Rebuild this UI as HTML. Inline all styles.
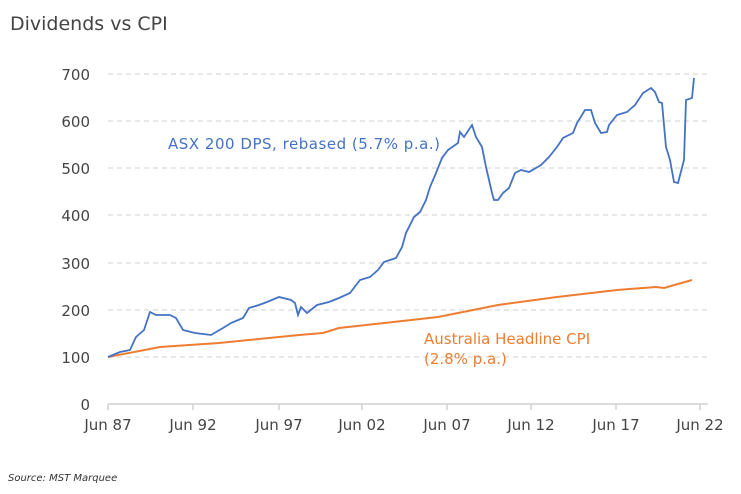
<!DOCTYPE html>
<html><head><style>
body{margin:0;background:#fff;}
svg{display:block;font-family:"DejaVu Sans","Liberation Sans",sans-serif;}
</style></head><body>
<svg width="741" height="494" viewBox="0 0 741 494">
<text x="10" y="30" font-size="19" fill="#444">Dividends vs CPI</text>
<g stroke="#d9d9d9" stroke-width="1.2" stroke-dasharray="5,4">
<line x1="108" y1="74" x2="708" y2="74"/>
<line x1="108" y1="121" x2="708" y2="121"/>
<line x1="108" y1="168" x2="708" y2="168"/>
<line x1="108" y1="215" x2="708" y2="215"/>
<line x1="108" y1="263" x2="708" y2="263"/>
<line x1="108" y1="310" x2="708" y2="310"/>
<line x1="108" y1="357" x2="708" y2="357"/>
</g>
<line x1="108" y1="404" x2="708" y2="404" stroke="#d0d0d0" stroke-width="1.5"/>
<g stroke="#d0d0d0" stroke-width="1.5">
<line x1="108" y1="404" x2="108" y2="410"/><line x1="193" y1="404" x2="193" y2="410"/>
<line x1="279" y1="404" x2="279" y2="410"/><line x1="362" y1="404" x2="362" y2="410"/>
<line x1="447" y1="404" x2="447" y2="410"/><line x1="531" y1="404" x2="531" y2="410"/>
<line x1="616" y1="404" x2="616" y2="410"/><line x1="700" y1="404" x2="700" y2="410"/>
</g>
<g font-size="15" fill="#444" text-anchor="end">
<text x="90" y="80">700</text><text x="90" y="127">600</text><text x="90" y="174">500</text>
<text x="90" y="221">400</text><text x="90" y="269">300</text><text x="90" y="316">200</text>
<text x="90" y="363">100</text><text x="90" y="410">0</text>
</g>
<g font-size="15" fill="#444" text-anchor="middle">
<text x="108" y="430">Jun 87</text><text x="193" y="430">Jun 92</text><text x="279" y="430">Jun 97</text>
<text x="362" y="430">Jun 02</text><text x="447" y="430">Jun 07</text><text x="531" y="430">Jun 12</text>
<text x="616" y="430">Jun 17</text><text x="700" y="430">Jun 22</text>
</g>
<polyline fill="none" stroke="#ed7d31" stroke-width="2" points="108,357 160,347 219,343 299,335 323,333 339,328 438,317 498,305 557,297 617,290 656,287 664,288 692,280"/>
<polyline fill="none" stroke="#4472c4" stroke-width="1.8" points="108,357 120,352 130,350 136,337 144,330 150,312 156,315 170,315 176,318 183,330 195,333 211,335 223,328 231,323 243,318 249,308 259,305 267,302 279,297 291,300 295,303 298,315 301,307 307,313 317,305 329,302 339,298 350,293 360,280 370,277 378,270 384,262 396,258 402,247 406,233 414,217 420,212 426,200 430,187 436,173 442,158 448,150 458,143 460,132 464,137 472,125 476,137 482,147 486,167 492,193 494,200 498,200 503,193 509,188 515,173 521,170 529,172 541,165 549,157 557,147 563,138 573,133 577,123 585,110 591,110 595,123 601,133 607,132 609,125 617,115 627,112 635,105 643,93 651,88 655,92 659,102 662,103 666,147 670,160 674,182 678,183 684,160 686,100 692,98 694,78"/>
<text x="168" y="149" font-size="15" fill="#4472c4" textLength="272">ASX 200 DPS, rebased (5.7% p.a.)</text>
<text x="424" y="344" font-size="15" fill="#ed7d31">Australia Headline CPI</text>
<text x="424" y="364" font-size="15" fill="#ed7d31">(2.8% p.a.)</text>
<text x="8" y="481" font-size="10" font-style="italic" fill="#333">Source: MST Marquee</text>
</svg>
</body></html>
